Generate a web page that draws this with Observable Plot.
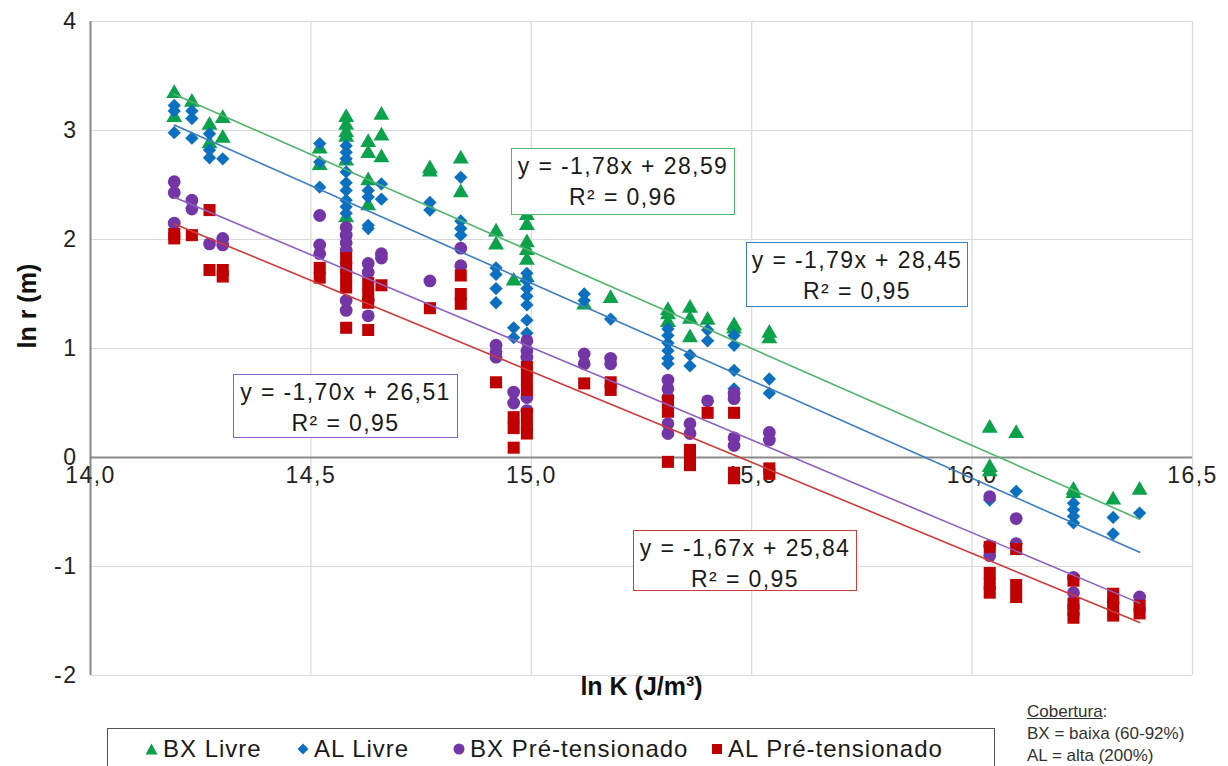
<!DOCTYPE html>
<html><head><meta charset="utf-8">
<script src="https://cdn.jsdelivr.net/npm/d3@7"></script>
<script src="https://cdn.jsdelivr.net/npm/@observablehq/plot@0.6"></script>
<style>
html,body{margin:0;padding:0;background:#fff;overflow:hidden;}
#wrap{position:relative;width:1228px;height:766px;font-family:"Liberation Sans",Arial,sans-serif;color:#222;}
.box{position:absolute;background:#fff;text-align:center;font-size:23px;letter-spacing:1.4px;line-height:31px;color:#1a1a1a;box-sizing:border-box;padding-top:2px;}
#legend{position:absolute;left:107px;top:728px;width:888px;height:60px;border:1px solid #555;box-sizing:border-box;font-size:24px;letter-spacing:1px;color:#1a1a1a;}
#legend span.it{position:absolute;top:6px;white-space:nowrap;}
#legend svg{vertical-align:middle;margin-right:5px;margin-top:-4px;}
#cob{position:absolute;left:1027px;top:701px;font-family:"Liberation Sans Narrow","Liberation Sans",Arial,sans-serif;font-size:17px;line-height:22px;color:#333;}
</style></head>
<body><div id="wrap"></div>
<script>
// ---- data: rows are [ln K, ln r values...] ----
const bxLivre = [
 [14.19, 3.34, 3.12],[14.23, 3.26],[14.27, 3.05, 2.88],[14.30, 3.11, 2.93],
 [14.52, 2.83, 2.68],[14.58, 3.12, 3.05, 2.98, 2.94, 2.72, 2.20],[14.63, 2.89, 2.79, 2.54, 2.31],
 [14.66, 3.14, 2.95, 2.75],[14.77, 2.65, 2.62],[14.84, 2.74, 2.43],[14.92, 2.07, 1.95],
 [14.96, 1.62],[14.99, 2.22, 2.13, 1.97, 1.90, 1.81, 1.65],[15.12, 1.40],[15.18, 1.46],
 [15.31, 1.35, 1.31, 1.24],[15.36, 1.37, 1.27, 1.10],[15.40, 1.26],[15.46, 1.21, 1.18],
 [15.54, 1.14, 1.09],[16.04, 0.27, -0.09, -0.13],[16.10, 0.22],[16.23, -0.30, -0.33],
 [16.32, -0.39],[16.38, -0.30]
];
const alLivre = [
 [14.19, 3.23, 3.18, 2.98],[14.23, 3.18, 3.11, 2.93],[14.27, 2.97, 2.82, 2.75],[14.30, 2.74],
 [14.52, 2.88, 2.71, 2.48],[14.58, 2.86, 2.80, 2.74, 2.62, 2.52, 2.45, 2.36, 2.30, 2.24],
 [14.63, 2.45, 2.39, 2.13, 2.10],[14.66, 2.51, 2.37],[14.77, 2.34, 2.27],[14.84, 2.57, 2.17, 2.10, 2.04],
 [14.92, 1.74, 1.68, 1.55, 1.42],[14.96, 1.19, 1.10],[14.99, 1.69, 1.62, 1.55, 1.48, 1.40, 1.26, 1.14],
 [15.12, 1.50, 1.44],[15.18, 1.27],[15.31, 1.18, 1.12, 1.05, 0.98, 0.91, 0.86],[15.36, 0.94, 0.84],
 [15.40, 1.17, 1.07],[15.46, 1.12, 1.03, 0.80, 0.63],[15.54, 0.72, 0.59],[16.04, -0.39],[16.10, -0.31],
 [16.23, -0.42, -0.48, -0.54, -0.60],[16.32, -0.55, -0.70],[16.38, -0.51]
];
const bxPre = [
 [14.19, 2.53, 2.43, 2.15],[14.23, 2.36, 2.28],[14.27, 1.96],[14.30, 2.01, 1.95],
 [14.52, 2.22, 1.95, 1.87],[14.58, 2.11, 2.04, 1.97, 1.90, 1.44, 1.35],[14.63, 1.78, 1.70, 1.44, 1.30],
 [14.66, 1.87, 1.83],[14.77, 1.62],[14.84, 1.92, 1.76],[14.92, 1.03, 0.97, 0.92],[14.96, 0.60, 0.50],
 [14.99, 1.07, 0.98, 0.92, 0.55, 0.43],[15.12, 0.95, 0.86],[15.18, 0.91, 0.86],
 [15.31, 0.71, 0.63, 0.55, 0.31, 0.22],[15.36, 0.31, 0.22],[15.40, 0.52],[15.46, 0.59, 0.54, 0.18, 0.11],
 [15.54, 0.23, 0.16],[16.04, -0.36, -0.81, -0.90],[16.10, -0.56, -0.79],[16.23, -1.10, -1.24],
 [16.32, -1.33],[16.38, -1.28]
];
const alPre = [
 [14.19, 2.05, 2.01],[14.23, 2.04],[14.27, 2.27, 1.72],[14.30, 1.72, 1.66],[14.52, 1.74, 1.65],
 [14.58, 1.83, 1.74, 1.66, 1.56, 1.19],[14.63, 1.60, 1.50, 1.42, 1.17],[14.66, 1.58],[14.77, 1.37],
 [14.84, 1.67, 1.50, 1.41],[14.92, 0.69],[14.96, 0.37, 0.27, 0.09],[14.99, 0.83, 0.72, 0.62, 0.40, 0.30, 0.22],
 [15.12, 0.68],[15.18, 0.69, 0.62],[15.31, 0.52, 0.42, -0.04],[15.36, 0.07, 0.00, -0.07],[15.40, 0.41],
 [15.46, 0.41, -0.14, -0.19],[15.54, -0.10, -0.15],[16.04, -0.82, -1.06, -1.16, -1.24],
 [16.10, -0.84, -1.17, -1.28],[16.23, -1.13, -1.34, -1.40, -1.47],[16.32, -1.25, -1.35, -1.45],
 [16.38, -1.36, -1.43]
];
const seriesNames = ["BX Livre", "AL Livre", "BX Pré-tensionado", "AL Pré-tensionado"];
const fitSlopes = [-1.78, -1.79, -1.70, -1.67];
const fitIntercepts = [28.59, 28.45, 26.51, 25.84];
const fitR2 = [0.96, 0.95, 0.95, 0.95];
const xTicks = [14.0, 14.5, 15.0, 15.5, 16.0, 16.5];
const yTicks = [-2, -1, 0, 1, 2, 3, 4];

// ---- styling ----
const markerColors = ["#0BA24B", "#0C70C0", "#7435A6", "#C00000"];
const lineColors = ["#4FB56C", "#3B7DC4", "#8E60BE", "#CF3A3A"];
const symbols = ["triangle", "diamond2", "circle", "square"];
const radii = [5.9, 6, 6.4, 6.8];
const allRows = [bxLivre, alLivre, bxPre, alPre];

const pts = allRows.map(rows => rows.flatMap(([x, ...ys]) => ys.map(y => ({x, y}))));
const fits = allRows.map((rows, i) => {
  const xs = rows.map(r => r[0]);
  const x0 = d3.min(xs), x1 = d3.max(xs);
  return [x0, x1].map(x => ({x, y: fitSlopes[i] * x + fitIntercepts[i]}));
});
const comma = v => v.toFixed(2).replace(".", ",");

const W = 1228, H = 712;
const plot = Plot.plot({
  width: W, height: H,
  marginLeft: 90, marginRight: 36, marginTop: 21, marginBottom: 37,
  style: {fontFamily: "Liberation Sans, Arial, sans-serif", fontSize: "23px", color: "#222", background: "#fff"},
  x: {domain: [14, 16.5], axis: null},
  y: {domain: [-2, 4], axis: null},
  marks: [
    Plot.gridY(yTicks, {stroke: "#d9d9d9", strokeOpacity: 1, strokeWidth: 1.2}),
    Plot.gridX(xTicks, {stroke: "#d9d9d9", strokeOpacity: 1, strokeWidth: 1.2}),
    Plot.ruleY([0], {stroke: "#8a8a8a", strokeWidth: 2}),
    Plot.ruleX([14], {stroke: "#8a8a8a", strokeWidth: 2}),
    Plot.axisY(yTicks, {tickSize: 0, tickPadding: 13, tickFormat: d => String(d), fontSize: 23, label: null, fill: "#222", className: "tk"}),
    Plot.text(xTicks, {x: d => d, y: 0, text: d => d.toFixed(1).replace(".", ","), dy: 18, fontSize: 23, fill: "#222", className: "tk"}),
    ...pts.map((p, i) => Plot.dot(p, {x: "x", y: "y", symbol: () => symbols[i], r: radii[i], fill: markerColors[i], stroke: "none"})),
    ...fits.map((f, i) => Plot.line(f, {x: "x", y: "y", stroke: lineColors[i], strokeWidth: 1.6})),
    Plot.text(["ln K (J/m³)"], {frameAnchor: "bottom", dy: 19, fontWeight: "bold", fontSize: 25, fill: "#111"}),
    Plot.text(["ln r (m)"], {frameAnchor: "left", dx: -63, rotate: -90, fontWeight: "bold", fontSize: 25, fill: "#111"})
  ]
});
const wrap = document.getElementById("wrap");
wrap.appendChild(plot);
plot.querySelectorAll("g.tk text, g.tk").forEach(n => n.setAttribute("letter-spacing", "1.5"));

// equation boxes
const boxPos = [
  {left: 511, top: 148, w: 224, h: 67},
  {left: 746, top: 242, w: 222, h: 65},
  {left: 233, top: 374, w: 225, h: 64},
  {left: 633, top: 530, w: 224, h: 61}
];
[0, 1, 2, 3].forEach(i => {
  const d = document.createElement("div");
  d.className = "box";
  const p = boxPos[i];
  d.style.left = p.left + "px"; d.style.top = p.top + "px";
  d.style.width = p.w + "px"; d.style.height = p.h + "px";
  d.style.border = "1.5px solid " + lineColors[i];
  const b = fitIntercepts[i] >= 0 ? " + " : " - ";
  d.innerHTML = "y = " + comma(fitSlopes[i]) + "x" + b + comma(Math.abs(fitIntercepts[i])) + "<br>R² = " + comma(fitR2[i]);
  wrap.appendChild(d);
});

// legend
const lg = document.createElement("div");
lg.id = "legend";
const itemX = [37, 189, 345, 603];
const sym = [
  '<svg width="13" height="12"><path d="M6.5,0.5L12.5,11.5H0.5Z" fill="#0BA24B"/></svg>',
  '<svg width="12" height="12"><path d="M6,0.5L11.5,6L6,11.5L0.5,6Z" fill="#0C70C0"/></svg>',
  '<svg width="12" height="12"><circle cx="6" cy="6" r="5.5" fill="#7435A6"/></svg>',
  '<svg width="12" height="12"><rect x="1" y="1" width="10" height="10" fill="#C00000"/></svg>'
];
seriesNames.forEach((n, i) => {
  const s = document.createElement("span");
  s.className = "it";
  s.style.left = itemX[i] + "px";
  s.innerHTML = sym[i] + n;
  lg.appendChild(s);
});
wrap.appendChild(lg);

const cob = document.createElement("div");
cob.id = "cob";
cob.innerHTML = '<u>Cobertura</u>:<br>BX = baixa (60-92%)<br>AL = alta (200%)';
wrap.appendChild(cob);
</script>
</body></html>
